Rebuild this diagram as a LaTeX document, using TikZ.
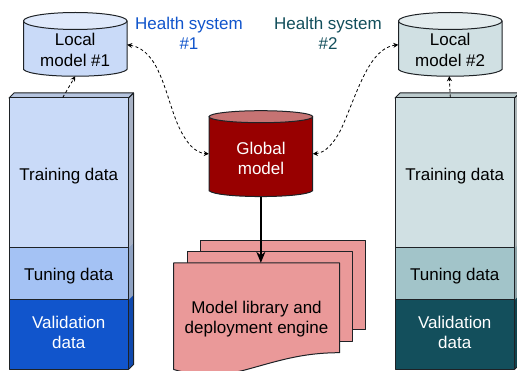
\documentclass[tikz,border=0pt]{standalone}
\usepackage{fontspec}
\setmainfont{Liberation Sans}
\usetikzlibrary{arrows.meta}
\definecolor{bluea}{HTML}{C9DAF8}\definecolor{blueb}{HTML}{A4C2F4}\definecolor{bluec}{HTML}{1155CC}
\definecolor{teala}{HTML}{D0E0E3}\definecolor{tealb}{HTML}{A2C4C9}\definecolor{tealc}{HTML}{134F5C}
\definecolor{red1}{HTML}{980000}\definecolor{pinkdoc}{HTML}{EA9999}
\definecolor{edge}{HTML}{1E2226}
\tikzset{
  x=1pt,y=-1pt,
  every node/.style={font=\fontsize{17}{20.5}\selectfont,align=center,inner sep=0pt},
  outline/.style={draw=edge,line width=1pt,line join=round},
  databox/.style={outline,minimum width=119.5pt},
  flow/.style={dash pattern=on 3pt off 2.5pt,line width=.8pt,black,-{Stealth[length=5pt,width=5pt]}},
  flowboth/.style={dash pattern=on 3pt off 2.5pt,line width=.8pt,black,{Stealth[length=5pt,width=5pt]}-{Stealth[length=5pt,width=5pt]}},
  mainflow/.style={line width=1.6pt,black,-{Stealth[length=11pt,width=9pt]}},
  sheet/.style={outline,fill=pinkdoc},
}
% \cyl{name}{x left}{x right}{top y}{ry}{bottom side y}{bottom y}{body}{top}
\newcommand{\cyl}[9]{%
  \draw[outline,fill=#8] (#2,#4+#5) -- (#2,#6) .. controls (#2+8,#7+1.5) and (#3-8,#7+1.5) .. (#3,#6) -- (#3,#4+#5) -- cycle;
  \draw[outline,fill=#9] ({(#2+#3)/2},#4+#5) ellipse [x radius={(#3-#2)/2},y radius=#5];
  \node[minimum width={(#3-#2)*1pt},minimum height={(#7-#4)*1pt}] (#1) at ({(#2+#3)/2},{(#4+#7)/2}) {};
}
% \stack{id}{x left}{c1}{c2}{c3}{s1}{s2}{s3}{top}
\newcommand{\stack}[9]{%
  \fill[#6] (#2+119.5,98) -- (#2+124.5,93) -- (#2+124.5,243) -- (#2+119.5,248) -- cycle;
  \fill[#7] (#2+119.5,248) -- (#2+124.5,243) -- (#2+124.5,295) -- (#2+119.5,300) -- cycle;
  \fill[#8] (#2+119.5,300) -- (#2+124.5,295) -- (#2+124.5,364.5) -- (#2+119.5,369.5) -- cycle;
  \draw[outline,fill=#9] (#2,98) -- (#2+5,93) -- (#2+124.5,93) -- (#2+119.5,98) -- cycle;
  \draw[outline] (#2+119.5,98) -- (#2+124.5,93) -- (#2+124.5,364.5) -- (#2+119.5,369.5);
  \node[databox,fill=#3,minimum height=150pt] (train#1) at (#2+59.75,173) {};
  \node[databox,fill=#4,minimum height=52pt] (tune#1) at (#2+59.75,274) {};
  \node[databox,fill=#5,minimum height=69.5pt] (valid#1) at (#2+59.75,334.75) {};
  \node (traintext#1) at (#2+59.75,176) {Training data};
  \node (tunetext#1) at (#2+59.75,276) {Tuning data};
  \node[white] (validtext#1) at (#2+59.75,332.2) {Validation\\data};
}
\begin{document}
\begin{tikzpicture}
\path[use as bounding box,clip] (0,0) rectangle (517,371);
\fill[white] (0,0) rectangle (517,371);
\stack{A}{9}{bluea}{blueb}{bluec}{bluea!75!black!85}{blueb!75!black!85}{bluec!85!black}{bluea!90!black}
\stack{B}{395}{teala}{tealb}{tealc}{teala!75!black!85}{tealb!75!black!85}{tealc!85!black}{teala!90!black}
\cyl{localA}{23.5}{127}{12.5}{8.5}{69.5}{77}{bluea}{bluea!60!white}
\cyl{localB}{398.5}{502}{12.5}{8.5}{69.5}{77}{teala}{teala!60!white}
\cyl{global}{209}{312.7}{110.7}{6}{190.7}{197}{red1}{red1!55!white}
\node (localAtext) at (75.2,50) {Local\\model \#1};
\node (localBtext) at (450.2,50) {Local\\model \#2};
\node[white] (globaltext) at (261,158.2) {Global\\model};
\node[text=bluec] (hsA) at (189,33.5) {Health system\\\#1};
\node[text=tealc] (hsB) at (328,33.5) {Health system\\\#2};
% document stack
\node[sheet,minimum width=165.7pt,minimum height=89.7pt] (sheetC) at (282.85,285.15) {};
\node[sheet,minimum width=164.5pt,minimum height=89.7pt] (sheetB) at (269.75,296.85) {};
\draw[sheet] (173.7,263) -- (339.7,263) -- (339.7,352.7)
  .. controls (300,352.7) and (275,362) .. (243,370.5)
  .. controls (220,376) and (195,376) .. (173.7,369.5) -- cycle;
\node[minimum width=166pt,minimum height=89.7pt] (sheetA) at (256.7,307.85) {};
\node (doctext) at (256.5,319) {Model library and\\deployment engine};
% connectors
\draw[flow] ([xshift=-6pt]trainA.north) -- ([yshift=1pt]localA.south);
\draw[flow] ([xshift=-4.5pt]trainB.north) -- ([yshift=1pt,xshift=-1pt]localB.south);
\draw[flowboth] (localA.east) .. controls (160,50) and (165,95) .. (178,125) .. controls (186,143) and (195,153) .. (global.west);
\draw[flowboth] (localB.west) .. controls (370,48) and (358,90) .. (343,125) .. controls (335,143) and (325,153) .. (global.east);
\draw[mainflow] (global.south) -- (global.south |- sheetA.north);
\end{tikzpicture}
\end{document}
